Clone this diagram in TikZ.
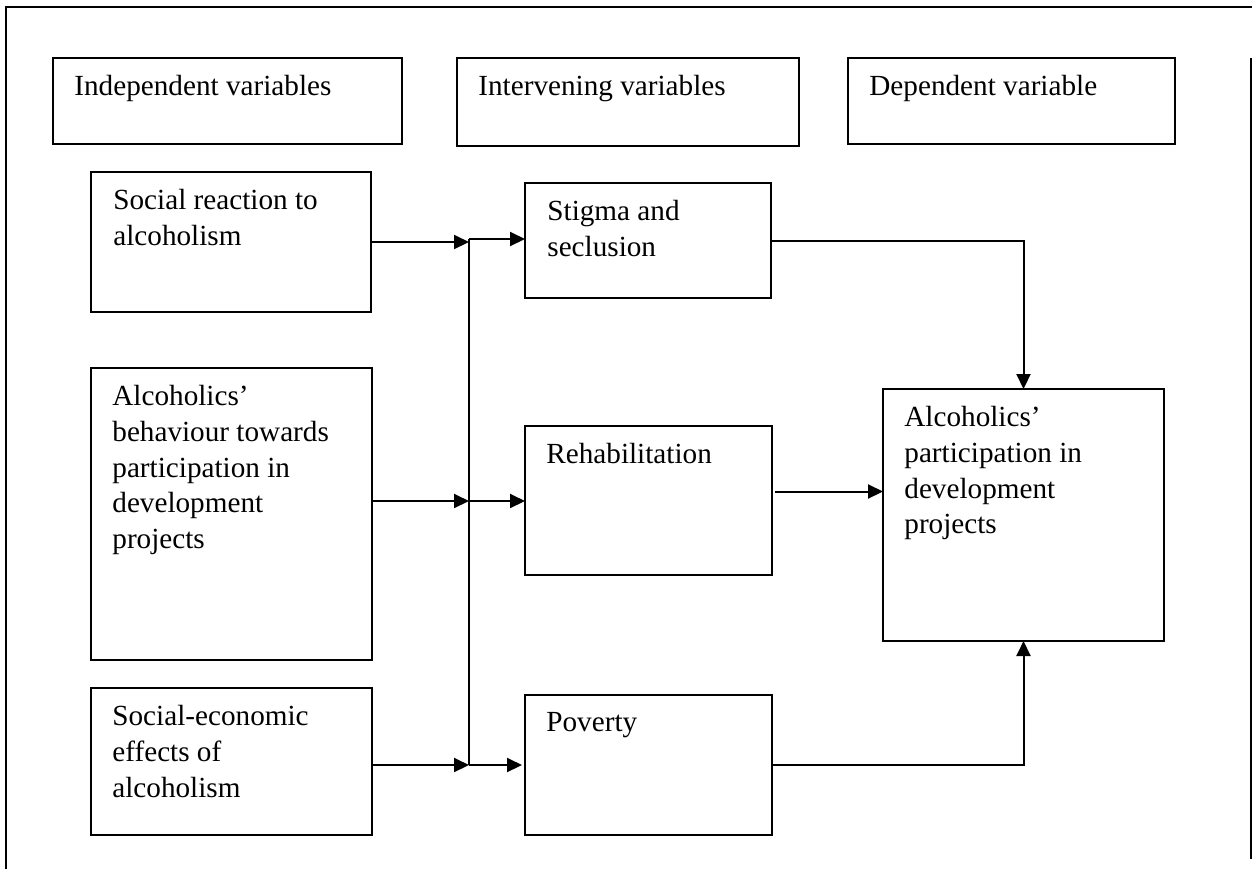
\documentclass[tikz,border=0pt]{standalone}
\usepackage{fontspec}
\setmainfont{Liberation Serif}
\usetikzlibrary{arrows.meta}
\begin{document}
\begin{tikzpicture}[
			x=0.5pt, y=-0.5pt,
			box/.style={draw, line width=1pt, inner sep=0pt, outer sep=0pt, anchor=north west},
			txt/.style={anchor=north west, inner sep=0pt, align=left,
					font=\fontsize{14.6pt}{17.85pt}\selectfont},
			arr/.style={line width=1pt, -{Triangle[length=7.5pt,width=7pt]}},
			link/.style={line width=1pt}
		]
		\useasboundingbox (0,0) rectangle (1253,869);
		\draw[link] (6,869) -- (6,7) -- (1252,7);
		\draw[link] (1251,58) -- (1251,859);
		% headings
		\node[box, minimum width=174.5pt, minimum height=43pt] (ind) at (53,58) {};
		\node[box, minimum width=171pt, minimum height=44pt] (intv) at (457,58) {};
		\node[box, minimum width=163.5pt, minimum height=43pt] (dep) at (848,58) {};
		\node[txt] (indT) at ([shift={(21,17)}]ind.north west) {Independent variables};
		\node[txt] (intvT) at ([shift={(21,17)}]intv.north west) {Intervening variables};
		\node[txt] (depT) at ([shift={(21,17)}]dep.north west) {Dependent variable};
		% independent
		\node[box, minimum width=140pt, minimum height=70pt] (soc) at (91,172) {};
		\node[box, minimum width=140.5pt, minimum height=146pt] (beh) at (91,368) {};
		\node[box, minimum width=140.5pt, minimum height=73.5pt] (eco) at (91,688) {};
		\node[txt] (socT) at ([shift={(22,17)}]soc.north west) {Social reaction to\\alcoholism};
		\node[txt] (behT) at ([shift={(21,17)}]beh.north west) {Alcoholics’\\behaviour towards\\participation in\\development\\projects};
		\node[txt] (ecoT) at ([shift={(21,17)}]eco.north west) {Social-economic\\effects of\\alcoholism};
		% intervening
		\node[box, minimum width=123pt, minimum height=57.5pt] (stig) at (525,183) {};
		\node[box, minimum width=123.5pt, minimum height=74.5pt] (rehab) at (525,426) {};
		\node[box, minimum width=123.5pt, minimum height=70pt] (pov) at (525,695) {};
		\node[txt] (stigT) at ([shift={(22,17)}]stig.north west) {Stigma and\\seclusion};
		\node[txt] (rehabT) at ([shift={(21,17)}]rehab.north west) {Rehabilitation};
		\node[txt] (povT) at ([shift={(21,17)}]pov.north west) {Poverty};
		% dependent
		\node[box, minimum width=140.5pt, minimum height=126pt] (part) at (883,389) {};
		\node[txt] (partT) at ([shift={(21,17)}]part.north west) {Alcoholics’\\participation in\\development\\projects};
		% connectors
		\coordinate (busT) at (469,239);
		\coordinate (busM) at (469,501);
		\coordinate (busB) at (469,765);
		\draw[link] (busT) -- (busB);
		\draw[arr] (soc.east) -- (soc.east -| busT);
		\draw[arr] (busT) -- (stig.west |- busT);
		\draw[arr] (beh.east |- busM) -- (busM);
		\draw[arr] (busM) -- (rehab.west |- busM);
		\draw[arr] (eco.east |- busB) -- (busB);
		\draw[arr] (busB) -- ([xshift=-1.5pt]pov.west |- busB);
		\draw[arr] (stig.east) -| (part.north);
		\draw[arr] ([shift={(3,-9)}]rehab.east) -- ([yshift=4.5pt]rehab.east -| part.west);
		\draw[arr] (pov.east) -| (part.south);
	\end{tikzpicture}
\end{document}
